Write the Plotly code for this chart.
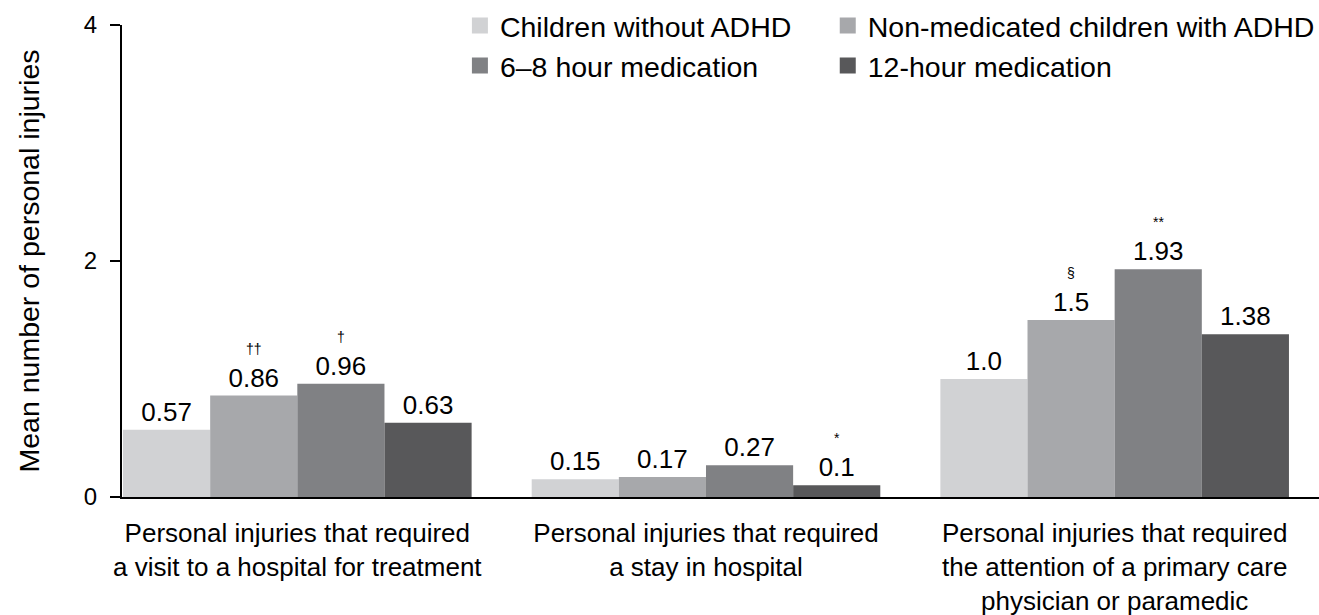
import plotly.graph_objects as go

categories = [
    "Personal injuries that required<br>a visit to a hospital for treatment",
    "Personal injuries that required<br>a stay in hospital",
    "Personal injuries that required<br>the attention of a primary care<br>physician or paramedic",
]
series_names = [
    "Children without ADHD",
    "Non-medicated children with ADHD",
    "6–8 hour medication",
    "12-hour medication",
]
values = [
    [0.57, 0.15, 1.0],
    [0.86, 0.17, 1.5],
    [0.96, 0.27, 1.93],
    [0.63, 0.10, 1.38],
]
value_labels = [
    ["0.57", "0.15", "1.0"],
    ["0.86", "0.17", "1.5"],
    ["0.96", "0.27", "1.93"],
    ["0.63", "0.1", "1.38"],
]
sig_marks = [
    ["", "", ""],
    ["††", "", "§"],
    ["†", "", "**"],
    ["", "*", ""],
]
colors = ["#d1d2d4", "#a7a8ab", "#808184", "#58585a"]
y_ticks = [0, 2, 4]

FONT = "Liberation Sans, Arial, sans-serif"
x_pos = list(range(len(categories)))
bargap = 0.147
bar_w = (1 - bargap) / len(series_names)
legend_of = ["legend", "legend2", "legend", "legend2"]

fig = go.Figure()
for i, name in enumerate(series_names):
    fig.add_trace(go.Bar(
        x=x_pos, y=values[i], name=name,
        marker=dict(color=colors[i], line=dict(width=0)),
        text=value_labels[i], textposition="outside",
        textfont=dict(size=26, color="black", family=FONT),
        cliponaxis=False, showlegend=False,
    ))
    fig.add_trace(go.Scatter(
        x=[None], y=[None], mode="markers", name=name,
        marker=dict(symbol="square", size=22, color=colors[i]),
        showlegend=True, legend=legend_of[i],
    ))
    for j, m in enumerate(sig_marks[i]):
        if m:
            fig.add_annotation(
                x=x_pos[j] + (i - 1.5) * bar_w, y=values[i][j],
                text=m, showarrow=False, yshift=47,
                font=dict(size=14, color="black", family=FONT),
            )

legend_common = dict(
    orientation="v", yanchor="top", xanchor="left",
    font=dict(size=28.5, color="black", family=FONT),
    itemsizing="trace", bgcolor="rgba(0,0,0,0)", tracegroupgap=0,
)

fig.update_layout(
    width=1319, height=615,
    margin=dict(l=122, r=0, t=25, b=118, autoexpand=False),
    paper_bgcolor="white", plot_bgcolor="white",
    barmode="group", bargap=bargap, bargroupgap=0,
    font=dict(family=FONT, color="black", size=24),
    legend=dict(x=0.2823, y=1.052, **legend_common),
    legend2=dict(x=0.5896, y=1.052, **legend_common),
    xaxis=dict(
        tickmode="array", tickvals=x_pos, ticktext=categories,
        range=[-0.429, 2.5], showline=True, linecolor="black", linewidth=2,
        ticks="", showgrid=False, zeroline=False, automargin=False,
        tickfont=dict(size=26, color="black"), ticklabelstandoff=12,
    ),
    yaxis=dict(
        range=[0, 4], tickvals=y_ticks, ticks="outside", ticklen=10, tickwidth=2,
        tickcolor="black", showline=True, linecolor="black", linewidth=2,
        showgrid=False, zeroline=False, automargin=False,
        tickfont=dict(size=24, color="black"), ticklabelstandoff=8,
        title=dict(text="Mean number of personal injuries", font=dict(size=28.5, color="black"), standoff=36),
    ),
)

fig.write_html(
    "out.html",
    config={"displayModeBar": False},
    post_script="document.body.style.margin='0';document.body.style.overflow='hidden';",
)
